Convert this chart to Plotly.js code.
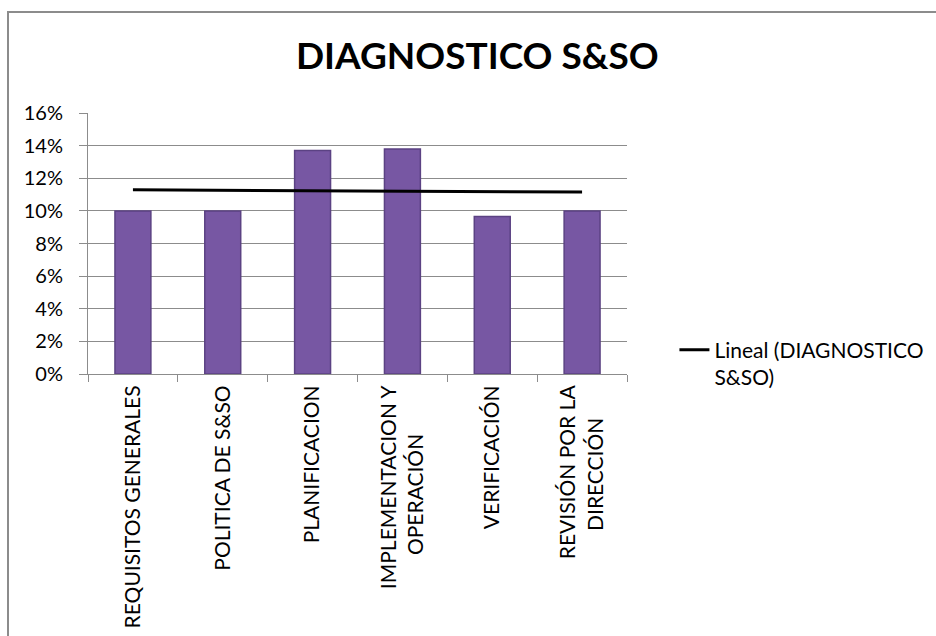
<!DOCTYPE html>
<html>
<head>
<meta charset="utf-8">
<script src="https://cdn.plot.ly/plotly-3.0.1.min.js"></script>
<style>
  html, body { margin: 0; padding: 0; background: #ffffff; }
  #frame { position: absolute; left: 7px; top: 11px; width: 1000px; height: 700px;
           border-left: 2px solid #8c8c8c; border-top: 2px solid #8c8c8c; pointer-events: none; }
  #chart { position: absolute; left: 0; top: 0; width: 936px; height: 636px; }
</style>
</head>
<body>
<div id="chart"></div>
<div id="frame"></div>
<script>
// Categories (x-axis labels)
const categories = [
  "REQUISITOS GENERALES",
  "POLITICA DE S&SO",
  "PLANIFICACION",
  "IMPLEMENTACION Y<br>OPERACIÓN",
  "VERIFICACIÓN",
  "REVISIÓN POR LA<br>DIRECCIÓN"
];
// Tick label text (second lines centred under the first, as in the original)
const NB = "\u00a0";
const tickLabels = [
  "REQUISITOS GENERALES",
  "POLITICA DE S&SO",
  "PLANIFICACION",
  "IMPLEMENTACION Y<br>OPERACIÓN" + NB.repeat(9),
  "VERIFICACIÓN",
  "REVISIÓN POR LA<br>DIRECCIÓN" + NB.repeat(6)
];
// Bar values (fractions)
const values = [0.100, 0.100, 0.137, 0.138, 0.0965, 0.100];
// Linear trendline values read at first and last category
const trendCategories = [categories[0], categories[categories.length - 1]];
const trendValues = [0.1129, 0.1115];
// Y tick values
const yTicks = [0, 0.02, 0.04, 0.06, 0.08, 0.10, 0.12, 0.14, 0.16];
const yTickLabels = ["0%", "2%", "4%", "6%", "8%", "10%", "12%", "14%", "16%"];

const FONT = "Lato, 'Open Sans', sans-serif";

const bars = {
  type: "bar",
  x: categories,
  y: values,
  width: 0.4,
  marker: { color: "#7757a3", line: { color: "#5b4283", width: 1.5 } },
  showlegend: false,
  hoverinfo: "y"
};

const trend = {
  type: "scatter",
  mode: "lines",
  x: trendCategories,
  y: trendValues,
  name: "Lineal (DIAGNOSTICO<br>S&SO)",
  line: { color: "#000000", width: 3 }
};

const layout = {
  width: 936,
  height: 636,
  paper_bgcolor: "rgba(0,0,0,0)",
  plot_bgcolor: "#ffffff",
  margin: { l: 88, r: 309, t: 113, b: 262, pad: 0, autoexpand: false },
  title: {
    text: "<b>DIAGNOSTICO S&SO</b>",
    font: { family: FONT, size: 37, color: "#000000" },
    x: 0.51, xref: "container", xanchor: "center",
    y: 57, yref: "container", yanchor: "middle"
  },
  font: { family: FONT, color: "#000000" },
  xaxis: {
    type: "category",
    tickangle: -90,
    tickmode: "array",
    tickvals: categories,
    ticktext: tickLabels,
    tickfont: { family: FONT, size: 21, color: "#000000" },
    ticks: "outside",
    tickson: "boundaries",
    ticklen: 7,
    tickcolor: "#8c8c8c",
    showline: true,
    linecolor: "#8c8c8c",
    linewidth: 1,
    showgrid: false,
    ticklabelstandoff: 2,
    automargin: false,
    range: [-0.5, 5.5]
  },
  yaxis: {
    range: [0, 0.16],
    tickvals: yTicks,
    ticktext: yTickLabels,
    tickfont: { family: FONT, size: 20, color: "#000000" },
    ticks: "outside",
    ticklen: 8,
    tickcolor: "#8c8c8c",
    showline: true,
    linecolor: "#8c8c8c",
    linewidth: 1,
    showgrid: true,
    gridcolor: "#8c8c8c",
    gridwidth: 1,
    zeroline: false,
    automargin: false,
    ticklabelstandoff: 12
  },
  legend: {
    x: 1.088, xanchor: "left",
    y: 0.04, yanchor: "middle",
    valign: "top",
    font: { family: FONT, size: 21, color: "#000000" },
    bgcolor: "rgba(0,0,0,0)"
  },
  showlegend: true
};

Plotly.newPlot("chart", [bars, trend], layout, { displayModeBar: false, staticPlot: true });
</script>
</body>
</html>
